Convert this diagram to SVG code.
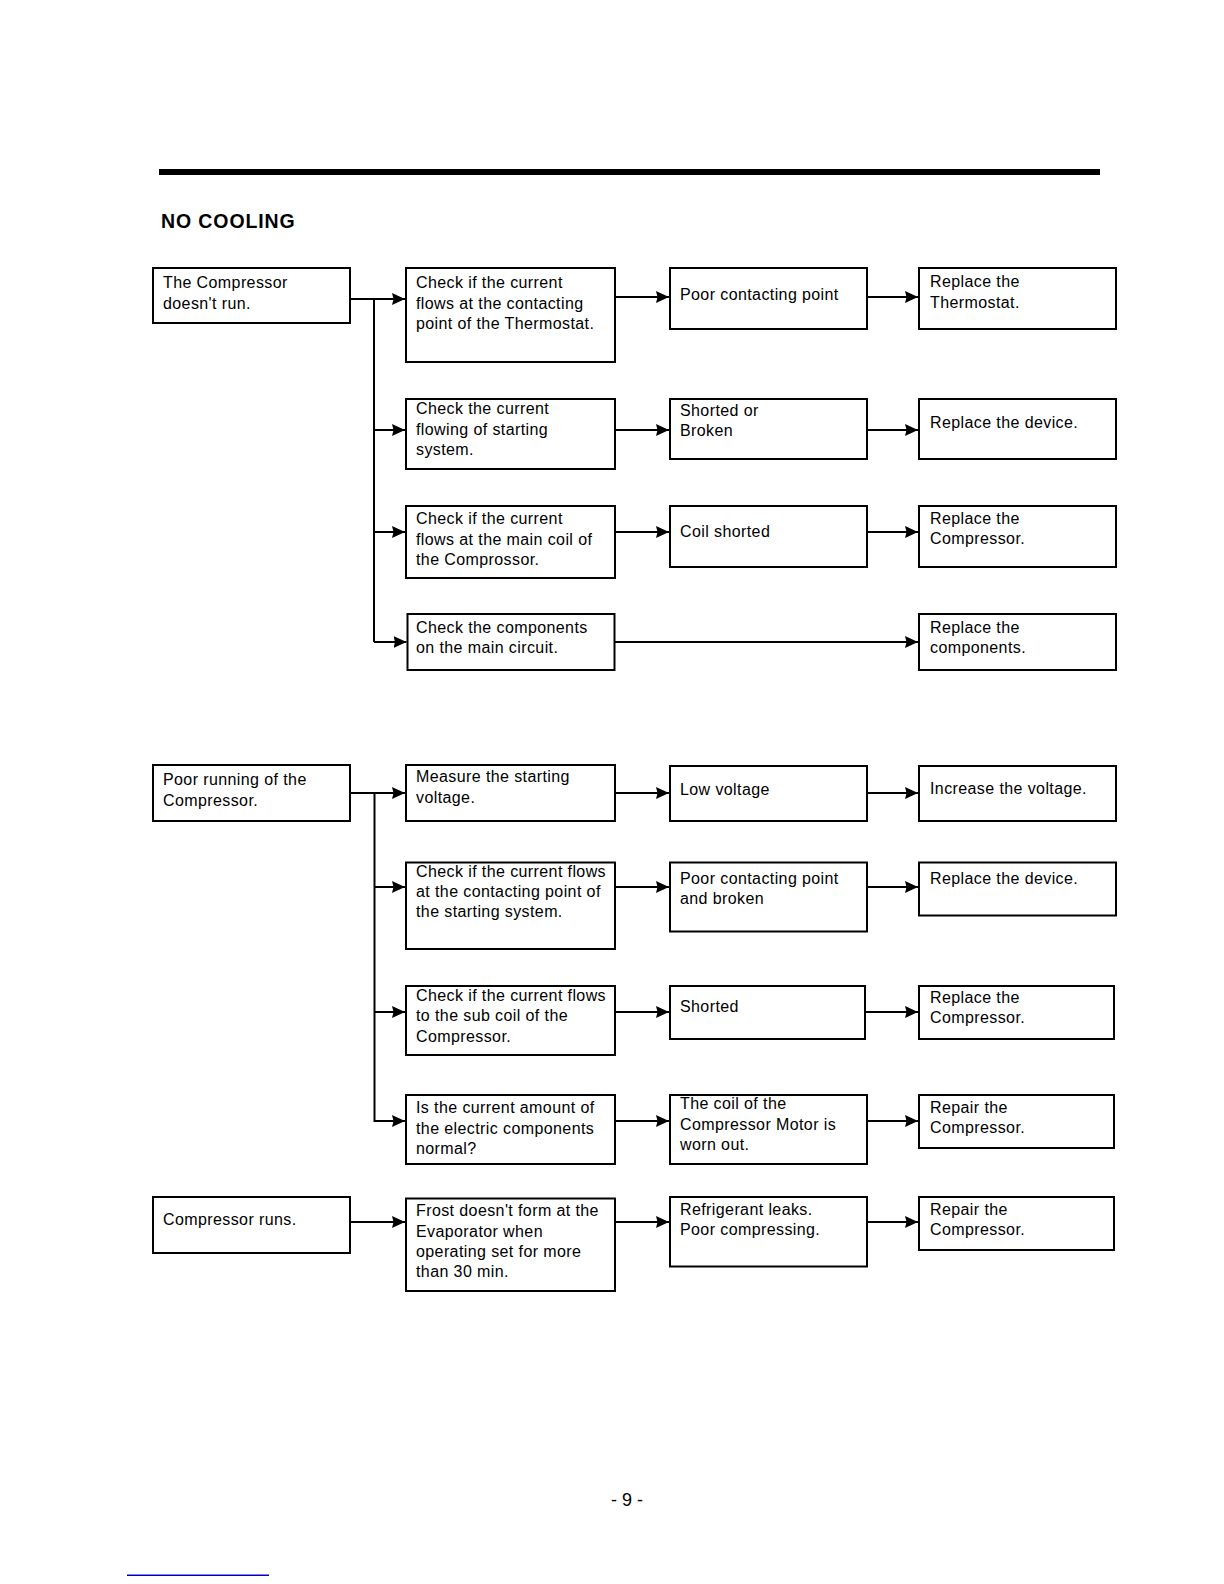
<svg xmlns="http://www.w3.org/2000/svg" width="1224" height="1584" viewBox="0 0 1224 1584">
<style>
  .box { fill: #fff; stroke: #000; stroke-width: 2; }
  .t { font-family: "Liberation Sans", Arial, sans-serif; font-size: 16px; letter-spacing: 0.4px; fill: #000; }
  .h { font-family: "Liberation Sans", Arial, sans-serif; font-size: 19.5px; font-weight: bold; letter-spacing: 0.9px; fill: #000; }
  .pg { font-family: "Liberation Sans", Arial, sans-serif; font-size: 18px; fill: #000; }
  .c { fill: none; stroke: #000; stroke-width: 2; }
  .ca { fill: none; stroke: #000; stroke-width: 2; marker-end: url(#arr); }
</style>
<defs>
  <marker id="arr" markerUnits="userSpaceOnUse" markerWidth="14" markerHeight="13" refX="13" refY="6" orient="auto">
    <path d="M0,0 L13,6 L0,12 L1.5,6 z" fill="#000"/>
  </marker>
</defs>
<rect width="1224" height="1584" fill="#fff"/>
<rect x="159" y="169" width="941" height="6" fill="#000"/>
<text class="h" x="161" y="228">NO COOLING</text>

<g id="connectors">
  <!-- section 1 -->
  <path class="ca" d="M350,299 H405"/>
  <path class="c" d="M374,298 V642"/>
  <path class="ca" d="M374,430 H405"/>
  <path class="ca" d="M374,532 H405"/>
  <path class="ca" d="M374,642 H406.5"/>
  <path class="ca" d="M615,297 H669"/>
  <path class="ca" d="M867,297 H918"/>
  <path class="ca" d="M615,430 H669"/>
  <path class="ca" d="M867,430 H918"/>
  <path class="ca" d="M615,532 H669"/>
  <path class="ca" d="M867,532 H918"/>
  <path class="ca" d="M614,642 H918"/>
  <!-- section 2 -->
  <path class="ca" d="M350,793 H405"/>
  <path class="c" d="M374.5,792 V1122"/>
  <path class="ca" d="M374.5,887 H405"/>
  <path class="ca" d="M374.5,1012 H405"/>
  <path class="ca" d="M374.5,1121 H405"/>
  <path class="ca" d="M615,793 H669"/>
  <path class="ca" d="M867,793 H918"/>
  <path class="ca" d="M615,887 H669"/>
  <path class="ca" d="M867,887 H918"/>
  <path class="ca" d="M615,1012 H669"/>
  <path class="ca" d="M865,1012 H918"/>
  <path class="ca" d="M615,1121 H669"/>
  <path class="ca" d="M867,1121 H918"/>
  <path class="ca" d="M350,1222 H405"/>
  <path class="ca" d="M615,1222 H669"/>
  <path class="ca" d="M867,1222 H918"/>
</g>

<!-- Section 1 -->
<g id="a1"><rect class="box" x="153" y="268" width="197" height="55"/>
  <text class="t" x="163" y="288">The Compressor</text><text class="t" x="163" y="308.5">doesn't run.</text></g>
<g id="b1"><rect class="box" x="406" y="268" width="209" height="94"/>
  <text class="t" x="416" y="288">Check if the current</text><text class="t" x="416" y="308.5">flows at the contacting</text><text class="t" x="416" y="329">point of the Thermostat.</text></g>
<g id="c1"><rect class="box" x="670" y="268" width="197" height="61"/>
  <text class="t" x="680" y="300">Poor contacting point</text></g>
<g id="d1"><rect class="box" x="919" y="268" width="197" height="61"/>
  <text class="t" x="930" y="287">Replace the</text><text class="t" x="930" y="307.5">Thermostat.</text></g>

<g id="b2"><rect class="box" x="406" y="399" width="209" height="70"/>
  <text class="t" x="416" y="414">Check the current</text><text class="t" x="416" y="434.5">flowing of starting</text><text class="t" x="416" y="455">system.</text></g>
<g id="c2"><rect class="box" x="670" y="399" width="197" height="60"/>
  <text class="t" x="680" y="415.5">Shorted or</text><text class="t" x="680" y="436">Broken</text></g>
<g id="d2"><rect class="box" x="919" y="399" width="197" height="60"/>
  <text class="t" x="930" y="428">Replace the device.</text></g>

<g id="b3"><rect class="box" x="406" y="506" width="209" height="72"/>
  <text class="t" x="416" y="524">Check if the current</text><text class="t" x="416" y="544.5">flows at the main coil of</text><text class="t" x="416" y="565">the Comprossor.</text></g>
<g id="c3"><rect class="box" x="670" y="506" width="197" height="61"/>
  <text class="t" x="680" y="536.5">Coil shorted</text></g>
<g id="d3"><rect class="box" x="919" y="506" width="197" height="61"/>
  <text class="t" x="930" y="523.5">Replace the</text><text class="t" x="930" y="543.5">Compressor.</text></g>

<g id="b4"><rect class="box" x="407.5" y="614" width="207" height="56"/>
  <text class="t" x="416" y="632.5">Check the components</text><text class="t" x="416" y="652.5">on the main circuit.</text></g>
<g id="d4"><rect class="box" x="919" y="614" width="197" height="56"/>
  <text class="t" x="930" y="632.5">Replace the</text><text class="t" x="930" y="652.5">components.</text></g>

<!-- Section 2 -->
<g id="a5"><rect class="box" x="153" y="765" width="197" height="56"/>
  <text class="t" x="163" y="785">Poor running of the</text><text class="t" x="163" y="805.5">Compressor.</text></g>
<g id="b5"><rect class="box" x="406" y="765" width="209" height="56"/>
  <text class="t" x="416" y="782">Measure the starting</text><text class="t" x="416" y="803">voltage.</text></g>
<g id="c5"><rect class="box" x="670" y="766" width="197" height="55"/>
  <text class="t" x="680" y="794.5">Low voltage</text></g>
<g id="d5"><rect class="box" x="919" y="766" width="197" height="55"/>
  <text class="t" x="930" y="794">Increase the voltage.</text></g>

<g id="b6"><rect class="box" x="406" y="862.5" width="209" height="86.5"/>
  <text class="t" x="416" y="877">Check if the current flows</text><text class="t" x="416" y="897">at the contacting point of</text><text class="t" x="416" y="917">the starting system.</text></g>
<g id="c6"><rect class="box" x="670" y="862.5" width="197" height="69"/>
  <text class="t" x="680" y="883.5">Poor contacting point</text><text class="t" x="680" y="903.5">and broken</text></g>
<g id="d6"><rect class="box" x="919" y="862.5" width="197" height="53"/>
  <text class="t" x="930" y="883.5">Replace the device.</text></g>

<g id="b7"><rect class="box" x="406" y="986" width="209" height="69"/>
  <text class="t" x="416" y="1000.5">Check if the current flows</text><text class="t" x="416" y="1021">to the sub coil of the</text><text class="t" x="416" y="1041.5">Compressor.</text></g>
<g id="c7"><rect class="box" x="670" y="986" width="195" height="53"/>
  <text class="t" x="680" y="1012">Shorted</text></g>
<g id="d7"><rect class="box" x="919" y="986" width="195" height="53"/>
  <text class="t" x="930" y="1002.5">Replace the</text><text class="t" x="930" y="1023">Compressor.</text></g>

<g id="b8"><rect class="box" x="406" y="1095" width="209" height="69"/>
  <text class="t" x="416" y="1113">Is the current amount of</text><text class="t" x="416" y="1133.5">the electric components</text><text class="t" x="416" y="1153.5">normal?</text></g>
<g id="c8"><rect class="box" x="670" y="1095" width="197" height="69"/>
  <text class="t" x="680" y="1109">The coil of the</text><text class="t" x="680" y="1129.5">Compressor Motor is</text><text class="t" x="680" y="1149.5">worn out.</text></g>
<g id="d8"><rect class="box" x="919" y="1095" width="195" height="53"/>
  <text class="t" x="930" y="1112.5">Repair the</text><text class="t" x="930" y="1133">Compressor.</text></g>

<g id="a9"><rect class="box" x="153" y="1197" width="197" height="56"/>
  <text class="t" x="163" y="1225">Compressor runs.</text></g>
<g id="b9"><rect class="box" x="406" y="1198.5" width="209" height="92.5"/>
  <text class="t" x="416" y="1215.5">Frost doesn't form at the</text><text class="t" x="416" y="1236.5">Evaporator when</text><text class="t" x="416" y="1256.5">operating set for more</text><text class="t" x="416" y="1277">than 30 min.</text></g>
<g id="c9"><rect class="box" x="670" y="1197" width="197" height="69.5"/>
  <text class="t" x="680" y="1214.5">Refrigerant leaks.</text><text class="t" x="680" y="1235">Poor compressing.</text></g>
<g id="d9"><rect class="box" x="919" y="1197" width="195" height="53"/>
  <text class="t" x="930" y="1214.5">Repair the</text><text class="t" x="930" y="1235">Compressor.</text></g>

<text class="pg" x="627" y="1506" text-anchor="middle">- 9 -</text>
<rect x="127" y="1574.5" width="142" height="1.5" fill="#0000cc"/>
</svg>
